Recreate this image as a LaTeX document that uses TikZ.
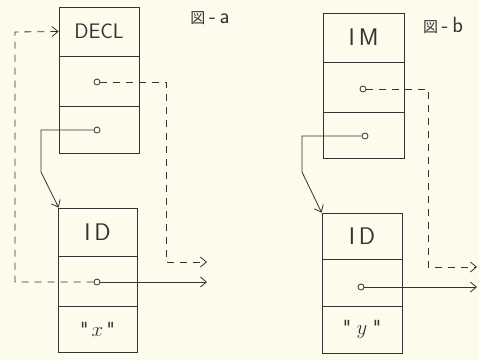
\documentclass[tikz,border=0pt]{standalone}
\usepackage{fontspec}
\newfontfamily\cjk{Noto Sans CJK JP}
\usetikzlibrary{arrows.meta}
\definecolor{bg}{HTML}{FDFBEC}
\definecolor{ink}{HTML}{333333}
\tikzset{
  cell/.style={draw=ink, line width=0.8pt, minimum width=80pt, inner sep=0pt, font=\sffamily\fontsize{24}{26}\selectfont, text=ink},
  dot/.style={draw=ink, circle, line width=0.8pt, minimum size=6pt, inner sep=0pt, fill=bg},
  wire/.style={draw=ink, line width=0.8pt},
  dwire/.style={wire, dash pattern=on 7pt off 6pt},
  tip/.style={-{Straight Barb[length=6pt,width=10pt]}},
  lab/.style={font=\sffamily\fontsize{22}{24}\selectfont, text=ink, inner sep=0pt}
}
\newcommand{\zu}{{\cjk\fontsize{15}{16}\selectfont 図}}
\newcommand{\qq}{\textquotedbl}
\begin{document}
\begin{tikzpicture}[x=1pt,y=-1pt]
\fill[bg] (0,0) rectangle (479,360);
\useasboundingbox (0,0) rectangle (479,360);
% left figure
\node[cell, minimum height=49pt, font=\sffamily\fontsize{21}{23}\selectfont] (d1) at (99,31.5) {DECL};
\node[cell, minimum height=50pt] (d2) at (99,81) {};
\node[cell, minimum height=47pt] (d3) at (99,129.5) {};
\node[lab] (la) at (210,18) {\zu\,-\,a};
\node[cell, minimum width=79pt, minimum height=48pt] (i1) at (97.5,232) {I\,D};
\node[cell, minimum width=79pt, minimum height=50pt] (i2) at (97.5,281) {};
\node[cell, minimum width=79pt, minimum height=46pt, font=\sffamily\fontsize{20}{22}\selectfont] (i3) at (97.5,329) {\qq\,$x$\,\qq};
\node[dot] (d2c) at (97,82) {};
\node[dot] (d3c) at (97,130) {};
\node[dot] (i2c) at (97,282) {};
\coordinate (ea1) at (207,262);
\coordinate (ea2) at (207,282);
\draw[dwire, tip] (d2c) -- (166,82) -- (166,262) -- (ea1);
\draw[wire, tip] (d3c) -- (41,130) -- (41,172) -- (d1.south west |- i1.north);
\draw[wire, tip] (i2c) -- (ea2);
\draw[dwire, tip] (i2c) -- (15,282) -- (15,32) -- (d1.west);
% right figure
\node[cell, minimum width=81pt, minimum height=49pt] (m1) at (363.5,37.5) {I\,M};
\node[cell, minimum width=81pt, minimum height=50pt] (m2) at (363.5,87) {};
\node[cell, minimum width=81pt, minimum height=46pt] (m3) at (363.5,135) {};
\node[lab] (lb) at (443,25) {\zu\,-\,b};
\node[cell, minimum height=46pt] (j1) at (362,236) {I\,D};
\node[cell, minimum height=47pt] (j2) at (362,282.5) {};
\node[cell, minimum height=47pt, font=\sffamily\fontsize{20}{22}\selectfont] (j3) at (362,329.5) {\qq\;$y$\;\qq};
\node[dot] (m2c) at (363,89) {};
\node[dot] (m3c) at (365,136) {};
\node[dot] (j2c) at (361,287) {};
\coordinate (eb1) at (477,267);
\coordinate (eb2) at (477,287);
\draw[dwire, tip] (m2c) -- (428,89) -- (428,267) -- (eb1);
\draw[wire, tip] (m3c) -- (302,136) -- (302,172) -- (j1.north west);
\draw[wire, tip] (j2c) -- (eb2);
\end{tikzpicture}
\end{document}
